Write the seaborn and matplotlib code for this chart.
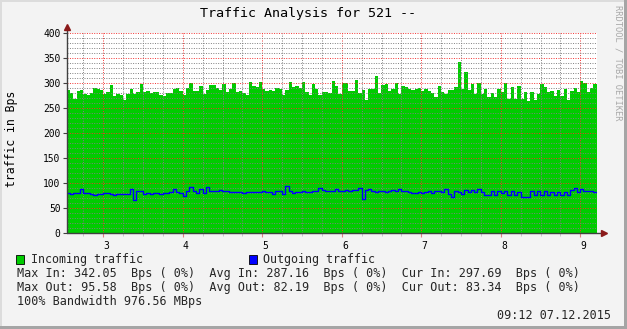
import numpy as np
import pandas as pd
import matplotlib
matplotlib.use("Agg")
import matplotlib.pyplot as plt
import matplotlib.transforms as mtransforms
from matplotlib.patches import Rectangle
from matplotlib.lines import Line2D
from matplotlib.ticker import MultipleLocator, FixedLocator
import seaborn as sns

# ---------------- data ----------------
incoming = [
    287, 280, 269, 285, 287, 278, 277, 280, 290, 289,
    287, 278, 282, 297, 274, 278, 277, 267, 279, 289,
    278, 282, 299, 283, 285, 280, 282, 282, 277, 274,
    280, 280, 289, 291, 284, 277, 291, 301, 285, 285,
    295, 279, 287, 297, 297, 290, 287, 299, 283, 289,
    301, 282, 285, 280,
    277, 302, 295, 293, 302, 289, 285, 287, 285, 291,
    289, 277, 287, 302, 293, 295, 291, 302, 282, 277,
    299, 289, 277, 282, 283, 281, 305, 295, 278, 301,
    301, 285, 285, 307, 281, 287, 267, 289, 289, 315,
    281, 297, 298, 285, 289, 301, 279, 295, 292, 289,
    287, 289, 291,
    285, 289, 285, 280, 273, 295, 283, 279, 287, 287,
    293, 342, 289, 323, 287, 299, 279, 301, 279, 289,
    273, 281, 273, 289, 283, 301, 269, 293, 269, 295,
    269, 283, 265, 283, 267, 279, 299, 293, 283, 285,
    275, 287, 275, 289, 267, 285, 291, 283, 305, 301,
    283, 291, 298,
]
outgoing = [
    80.7, 79, 80.7, 80.7, 88, 80.7, 80.7, 79.3, 77.3, 78.7,
    78.7, 80, 80, 78.7, 77.3, 78.7, 78, 79.3, 78, 88,
    66, 85.3, 84, 79.3, 81.3, 78, 80.7, 80.7, 78, 80.7,
    80.7, 82, 88, 82.7, 80.7, 75.3, 84, 92, 85.3, 80.7,
    88, 80.7, 92, 85.3, 85.3, 85.3, 86, 84, 84, 82.7,
    82.7, 82.7, 82.7, 80.7,
    82.7, 82.7, 82.7, 82.7, 82.7, 84, 82.7, 82.7, 78.7, 84,
    85.3, 78.7, 95.6, 84, 80.7, 82.7, 82.7, 85.3, 82.7, 82.7,
    85.3, 85.3, 90, 87, 85.3, 85.3, 84, 89, 85.3, 85.3,
    87, 85.3, 87, 87, 90, 69.3, 87, 89, 85.3, 82.7,
    85.3, 85.3, 82.7, 85.3, 87, 85.3, 88, 85.3, 85.3, 82.7,
    80.7, 80.7, 82.7,
    80.7, 82.7, 84, 80.7, 84, 85, 82.7, 89.3, 78.7, 72,
    85.3, 82.7, 78.7, 87.3, 82.7, 87.3, 82.7, 89.3, 82.7, 77.3,
    77.3, 85.3, 77.3, 85.3, 80.7, 85.3, 77.3, 85.3, 77.3, 82.7,
    72, 72.7, 73.3, 85.3, 76, 85.3, 77.3, 85.3, 77.3, 82.7,
    77.3, 82.7, 77.3, 82.7, 76, 87.3, 90.7, 82.7, 89.3, 84,
    84, 84, 83.3,
]
start_day = 2.5396          # first sample (day of month)
samples_per_day = 24        # hourly samples
day_ticks = [3, 4, 5, 6, 7, 8, 9]
y_ticks = [0, 50, 100, 150, 200, 250, 300, 350, 400]

title = "Traffic Analysis for 521 --"
ylabel = "traffic in Bps"
side_text = "RRDTOOL / TOBI OETIKER"
legend_in = "Incoming traffic"
legend_out = "Outgoing traffic"
stats_lines = [
    "Max In: 342.05  Bps ( 0%)  Avg In: 287.16  Bps ( 0%)  Cur In: 297.69  Bps ( 0%)",
    "Max Out: 95.58  Bps ( 0%)  Avg Out: 82.19  Bps ( 0%)  Cur Out: 83.34  Bps ( 0%)",
    "100% Bandwidth 976.56 MBps",
]
stamp = "09:12 07.12.2015"

# ---------------- build frame ----------------
n = len(incoming)
days = start_day + np.arange(n + 1) / samples_per_day
df = pd.DataFrame({
    "day": days,
    "incoming": incoming + [incoming[-1]],
    "outgoing": outgoing + [outgoing[-1]],
})

sns.set_theme(style="white")
plt.rcParams['font.family'] = ['DejaVu Sans Mono', 'DejaVu Sans']

W, H = 627, 329
BG = '#F3F3F3'
fig = plt.figure(figsize=(W / 100, H / 100), dpi=100, facecolor=BG)

def fx(px):
    return px / W

def fy(py):
    return 1 - py / H

ax_l, ax_r, ax_t, ax_b = 66.7, 596.7, 33.3, 233.3
ax = fig.add_axes([fx(ax_l), fy(ax_b), fx(ax_r - ax_l), (ax_b - ax_t) / H])
ax.set_facecolor('white')

ax.fill_between(df["day"], df["incoming"], step="post", color="#00CC00",
                lw=0, zorder=1)
sns.lineplot(data=df, x="day", y="outgoing", drawstyle="steps-post",
             color="#0000FF", lw=1.0, estimator=None, sort=False,
             ax=ax, zorder=3)

ax.set_xlim(df["day"].iloc[0], df["day"].iloc[-1])
ax.set_ylim(0, 400)
ax.set_xlabel("")
ax.set_ylabel("")

ax.xaxis.set_major_locator(FixedLocator(day_ticks))
ax.xaxis.set_minor_locator(MultipleLocator(0.25))
ax.yaxis.set_major_locator(FixedLocator(y_ticks))
ax.yaxis.set_minor_locator(MultipleLocator(10))

ax.set_axisbelow(False)
ax.grid(which='minor', color=(0.5, 0.5, 0.5, 0.11), ls=(0, (1, 1.5)), lw=0.7)
ax.grid(which='major', color=(0.95, 0.2, 0.2, 0.2), ls=(0, (1, 1.5)), lw=0.7)

for s in ax.spines.values():
    s.set_visible(False)

ax.tick_params(axis='y', which='major', length=3, width=0.8, color='#404040',
               direction='out', pad=1.5, labelsize=6.9, left=True,
               labelcolor='black')
ax.tick_params(axis='y', which='minor', length=0)
ax.tick_params(axis='x', which='major', length=3, width=0.8, color='#E08080',
               direction='out', pad=2.5, labelsize=6.9, bottom=True,
               labelcolor='black')
ax.tick_params(axis='x', which='minor', length=2, width=0.6, color='#C0C0C0',
               direction='out', bottom=True)
ax.set_xticklabels([str(d) for d in day_ticks])
ax.set_yticklabels([str(v) for v in y_ticks])
off = mtransforms.ScaledTranslation(3 / 100, 0, fig.dpi_scale_trans)
for lab in ax.get_xticklabels():
    lab.set_transform(lab.get_transform() + off)

# axes lines and arrows
ext_top = 6 / (ax_b - ax_t)
ext_right = 7 / (ax_r - ax_l)
ax.add_line(Line2D([0, 0], [0, 1 + ext_top], transform=ax.transAxes,
                   color='#404040', lw=1, clip_on=False, zorder=5))
ax.add_line(Line2D([0, 1 + ext_right], [0, 0], transform=ax.transAxes,
                   color='#404040', lw=1, clip_on=False, zorder=5))
ax.plot([0], [1 + ext_top], marker='^', ms=4.5, color='#8B1A1A',
        transform=ax.transAxes, clip_on=False, zorder=6)
ax.plot([1 + ext_right], [0], marker='>', ms=4.5, color='#8B1A1A',
        transform=ax.transAxes, clip_on=False, zorder=6)

# texts
fig.text(fx(307.5), fy(13.5), title, ha='center', va='center',
         fontsize=9.6, color='black')
fig.text(fx(12), fy(139), ylabel, ha='center', va='center', rotation=90,
         fontsize=8.3, color='black')
fig.text(fx(618), fy(5), side_text, ha='center', va='top', rotation=270,
         fontsize=6.3, color='#A8A8A8')

# legend
for bx, col, tx, label in [(16, '#00CC00', 31, legend_in),
                           (249, '#0000FF', 263, legend_out)]:
    fig.add_artist(Rectangle((fx(bx), fy(263.5)), 8 / W, 9 / H,
                             transform=fig.transFigure, fc=col, ec='black',
                             lw=0.6))
    fig.text(fx(tx), fy(259), label, ha='left', va='center', fontsize=8.4)

for i, line in enumerate(stats_lines):
    fig.text(fx(16.8), fy(273.3 + 14 * i), line, ha='left', va='center',
             fontsize=8.45)
fig.text(fx(611), fy(315.3), stamp, ha='right', va='center', fontsize=8.45)

# 3D frame
fig.add_artist(Rectangle((0, 1 - 2 / H), 1, 2 / H, transform=fig.transFigure,
                         fc='#DCDCDC', ec='none'))
fig.add_artist(Rectangle((0, 0), 2 / W, 1, transform=fig.transFigure,
                         fc='#DCDCDC', ec='none'))
fig.add_artist(Rectangle((1 - 3 / W, 0), 3 / W, 1, transform=fig.transFigure,
                         fc='#A5A5A5', ec='none'))
fig.add_artist(Rectangle((0, 0), 1, 3 / H, transform=fig.transFigure,
                         fc='#A5A5A5', ec='none'))

fig.savefig("out.png", dpi=100, facecolor=BG)
